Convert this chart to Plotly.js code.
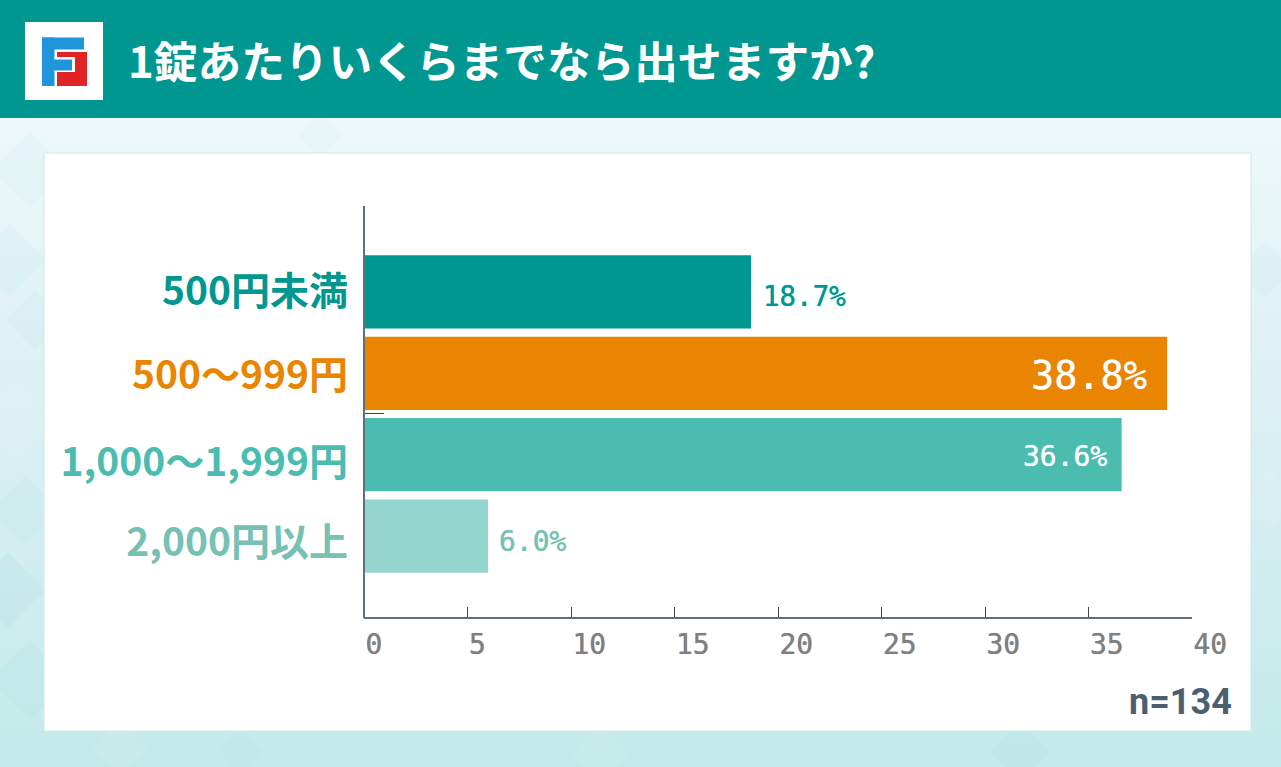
<!DOCTYPE html>
<html><head><meta charset="utf-8">
<script src="https://cdn.plot.ly/plotly-3.0.1.min.js"></script>
<style>html,body{margin:0;padding:0;width:1281px;height:767px;overflow:hidden;background:linear-gradient(180deg,#eef8fa 118px,#e0f2f4 330px,#c4e9ea 767px)}#c{width:1281px;height:767px}</style>
</head><body><div id="c"></div>
<script>
const categories=['500円未満','500〜999円','1,000〜1,999円','2,000円以上'];
const values=[18.7,38.8,36.6,6.0];
const barColors=['#009790','#e98500','#4bbcb0','#94d6ce'];
const labelColors=['#009790','#e98500','#4bbcb0','#76c0b4'];
const labelNudge=[-0.005,0.02,0.094,0.075];
const valueText=['18.7%','38.8%','36.6%','6.0%'];
const valueColors=['#009790','#ffffff','#ffffff','#76c0b4'];
const valueSizes=[27.5,38.5,28,28];
const valueInside=[false,true,true,false];
const valueXShift=[10,-18,-13,9];
const valueYShift=[-4,-2,-2,-5];
const xTicks=[0,5,10,15,20,25,30,35,40];

const W=1281,H=767,L=364,R=1192,T=206,B=617;
const px=x=>(x-L)/(R-L), py=y=>(B-y)/(B-T);
const rect=(x0,y0,x1,y1,fill,line)=>({type:'rect',xref:'paper',yref:'paper',x0:px(x0),x1:px(x1),y0:py(y0),y1:py(y1),fillcolor:fill,line:line?{color:line,width:1}:{width:0},layer:'below'});
const poly=(pts,fill)=>({type:'path',xref:'paper',yref:'paper',path:'M'+pts.map(p=>px(p[0])+','+py(p[1])).join('L')+'Z',fillcolor:fill,line:{width:0},layer:'below'});
const diamond=(cx,cy,r,fill)=>poly([[cx,cy-r],[cx+r,cy],[cx,cy+r],[cx-r,cy]],fill);

const shapes=[
 diamond(30,170,38,'rgba(170,222,224,0.10)'),
 diamond(10,260,36,'rgba(170,222,224,0.10)'),
 diamond(35,320,30,'rgba(170,222,224,0.12)'),
 diamond(15,420,40,'rgba(255,255,255,0.10)'),
 diamond(25,510,34,'rgba(170,222,224,0.10)'),
 diamond(8,590,38,'rgba(150,215,218,0.12)'),
 diamond(30,680,40,'rgba(150,215,218,0.10)'),
 diamond(320,135,22,'rgba(190,228,230,0.14)'),
 diamond(1265,270,28,'rgba(170,222,224,0.12)'),
 diamond(1270,500,30,'rgba(255,255,255,0.08)'),
 diamond(120,750,28,'rgba(255,255,255,0.08)'),
 diamond(240,750,24,'rgba(170,222,224,0.10)'),
 diamond(600,755,30,'rgba(255,255,255,0.06)'),
 diamond(1020,752,30,'rgba(150,215,218,0.10)'),
 rect(0,0,W,118,'#009790'),
 rect(25,22,103,100,'#ffffff'),
 rect(42,37.5,84,49.5,'#1f95dc'),
 rect(42,37.5,54.5,86,'#1f95dc'),
 rect(57,52,87,86,'#e02426'),
 rect(54.5,57,75,72,'#ffffff'),
 rect(54,59.5,72,70.5,'#1f95dc'),
 rect(44,153,1251,731,'#ffffff','#cfe8e6'),
 {type:'line',xref:'paper',yref:'paper',x0:px(365),x1:px(384),y0:py(413.5),y1:py(413.5),line:{color:'#444444',width:1},layer:'above'},
 {type:'line',xref:'paper',yref:'paper',x0:px(364),x1:px(364),y0:py(206),y1:py(618),line:{color:'#5f6f7c',width:2},layer:'above'}
];

const annotations=values.map((v,i)=>({
  x:v,y:i,xref:'x',yref:'y',text:valueText[i],showarrow:false,
  xanchor:valueInside[i]?'right':'left',xshift:valueXShift[i],yshift:valueYShift[i],
  font:{family:'"DejaVu Sans Mono",monospace',size:valueSizes[i],color:valueColors[i],shadow:'0 0 0.7px '+valueColors[i]}
}));
annotations.push({xref:'paper',yref:'paper',text:'<b>n=134</b>',showarrow:false,xanchor:'right',yanchor:'middle',
  x:px(1234),y:py(702),font:{family:'Roboto',size:36,color:'#4a5f70'}});

Plotly.newPlot('c',[{
  type:'bar',orientation:'h',y:categories.map((c,i)=>i),x:values,width:0.9,
  marker:{color:barColors,line:{width:0}},hoverinfo:'x+y'
}],{
  width:W,height:H,margin:{l:L,r:W-R,t:T,b:H-B,pad:0},
  paper_bgcolor:'rgba(0,0,0,0)',plot_bgcolor:'rgba(0,0,0,0)',showlegend:false,
  title:{text:'<b>1錠あたりいくらまでなら出せますか?</b>',x:128/W,xanchor:'left',xref:'container',y:1-63/H,yanchor:'middle',yref:'container',
    font:{family:'"Noto Sans CJK JP"',size:43.7,color:'#ffffff'}},
  xaxis:{range:[0,40],tickvals:xTicks,ticktext:xTicks.map(String),ticks:'inside',ticklen:10,tickwidth:1,tickcolor:'#444444',
    showgrid:false,zeroline:false,showline:true,linecolor:'#5f6f7c',linewidth:2,ticklabelposition:'outside right',ticklabelstandoff:1,
    tickfont:{family:'"DejaVu Sans Mono",monospace',size:28,color:'#808080',shadow:'0 0 0.7px #808080'}},
  yaxis:{range:[3.994,-1.055],tickvals:labelNudge.map((d,i)=>i+d),
    ticktext:categories.map((c,i)=>`<b><span style="color:${labelColors[i]}">${c}</span></b>`),
    ticks:'',showgrid:false,zeroline:false,showline:false,ticklabelstandoff:15,
    tickfont:{family:'"Noto Sans CJK JP"',size:39,color:'#333'}},
  shapes,annotations
},{displayModeBar:false});
</script></body></html>
